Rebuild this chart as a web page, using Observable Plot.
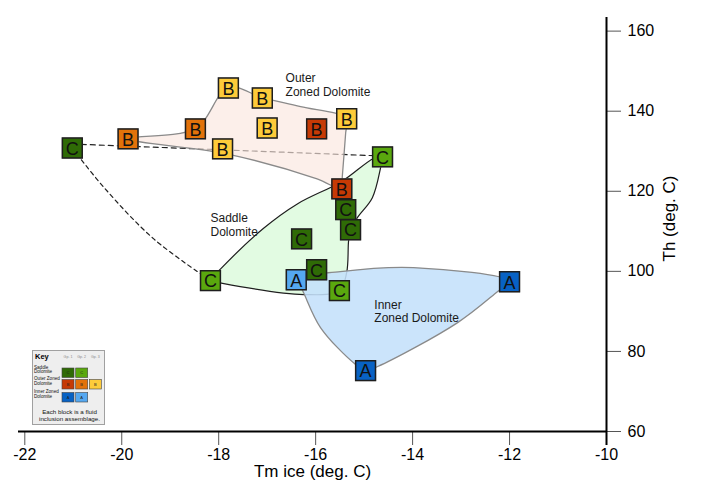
<!DOCTYPE html>
<html><head><meta charset="utf-8">
<script src="https://cdn.jsdelivr.net/npm/d3@7"></script>
<script src="https://cdn.jsdelivr.net/npm/@observablehq/plot@0.6"></script>
<style>
body{margin:0;background:#fff;font-family:"Liberation Sans",Arial,sans-serif;}
#wrap{position:relative;width:702px;height:489px;}
#wrap svg.key{position:absolute;left:0;top:0;pointer-events:none;}
</style></head><body><div id="wrap"></div>
<script>
// ---- data: fluid inclusion assemblages (Tm ice vs Th) ----
const tmIce  = [-21.02,-19.87,-18.48,-17.80,-17.10,-17.92,-17.00,-15.98,-15.36,-14.62,-15.46,-15.38,-15.28,-16.29,-18.17,-15.98,-16.40,-15.51,-12.00,-14.97];
const thHom  = [130.8, 133.1, 135.6, 145.8, 143.3, 130.6, 135.8, 135.6, 138.1, 128.6, 120.6, 115.4, 110.4, 108.1, 97.7, 100.4, 97.9, 95.2, 97.4, 75.2];
const letter = ["C","B","B","B","B","B","B","B","B","C","B","C","C","C","C","C","A","C","A","A"];
const group  = ["S1","O2","O2","O3","O3","O3","O3","O1","O3","S2","O1","S1","S1","S1","S2","S1","I2","S2","I1","I1"];
const groupColor = {S1:"#2f6b06", S2:"#5aa80e", O1:"#c63a05", O2:"#e2720a", O3:"#fdcb3a", I1:"#0862c4", I2:"#55a8f0"};

// region outlines (control points read along each boundary)
const outerX  = [-19.86,-18.48,-17.80,-17.10,-16.31,-15.36,-15.38,-15.45,-15.47,-15.97,-17.86];
const outerY  = [133.16,135.65,145.9, 143.4, 141.15,138.15,134.66,123.67,120.67,123.1, 129.4];
const saddleX = [-18.17,-17.96,-17.08,-16.37,-15.47,-14.805,-14.62,-14.66,-14.83,-15.14,-15.28,-15.32,-15.36,-15.51,-16.25,-17.92];
const saddleY = [97.7, 100.6, 110.7, 116.9, 122.4, 128.2,  128.66,125.9, 118.4, 113.4, 110.4, 107.7, 99.7,  95.2,  94.2,  97.0];
const innerX  = [-16.39,-15.49,-13.98,-12.00,-12.245,-13.07,-14.72,-14.97,-15.20,-15.90,-16.27];
const innerY  = [97.95, 99.95, 100.95,97.45, 94.96,  87.2,  76.23, 75.23, 76.98, 85.97, 95.2];
// dashed links
const linkX   = [-21.02,-14.62];
const linkY   = [131.8, 128.8];
const curveX  = [-21.02,-20.37,-19.34,-18.17];
const curveY  = [130.8, 121.0, 108.1, 97.7];

const regionNames = ["Outer\nZoned Dolomite","Saddle\nDolomite","Inner\nZoned Dolomite"];
const regionX = [-16.62,-18.17,-14.79];
const regionY = [146.6, 111.6, 90.1];

const xTicks = [-22,-20,-18,-16,-14,-12,-10];
const yTicks = [60,80,100,120,140,160];
const xTitle = "Tm ice (deg. C)";
const yTitle = "Th (deg. C)";

// key
const keyRows = ["Saddle\nDolomite","Outer Zoned\nDolomite","Inner Zoned\nDolomite"];
const keyCols = ["Gp. 1","Gp. 2","Gp. 3"];
const keyGroups = [["S1","S2"],["O1","O2","O3"],["I1","I2"]];
const keyLetters = ["C","B","A"];
const keyNote = ["Each block is a fluid","inclusion assemblage."];

const idx = d3.range(tmIce.length);
const poly = X => d3.range(X.length);

const chart = Plot.plot({
  width: 702, height: 489,
  marginLeft: 18, marginRight: 96, marginTop: 17, marginBottom: 58,
  x: {domain: [-22.13, -10], axis: null},
  y: {domain: [60, 163.4], axis: null},
  color: {type: "identity"},
  style: {fontFamily: "'Liberation Sans', Arial, sans-serif", color: "#000", background: "#fff"},
  marks: [
    Plot.line(d3.range(2), {x: i => linkX[i], y: i => linkY[i], stroke: "#222", strokeWidth: 1.2, strokeDasharray: "5,4"}),
    Plot.line(d3.range(4), {x: i => curveX[i], y: i => curveY[i], curve: "catmull-rom", stroke: "#222", strokeWidth: 1.2, strokeDasharray: "4,3.5"}),
    Plot.line(poly(outerX), {x: i => outerX[i], y: i => outerY[i], curve: "catmull-rom-closed", fill: "#fbe6de", fillOpacity: 0.65, stroke: "#8a8a8a", strokeWidth: 1.3}),
    Plot.line(poly(saddleX), {x: i => saddleX[i], y: i => saddleY[i], curve: "catmull-rom-closed", fill: "#e2fbe2", stroke: "#1e1e1e", strokeWidth: 1.2}),
    Plot.line(poly(innerX), {x: i => innerX[i], y: i => innerY[i], curve: "catmull-rom-closed", fill: "#c4e0fa", fillOpacity: 0.88, stroke: "#8a8a8a", strokeWidth: 1.3}),
    Plot.text(regionNames, {x: (d,i) => regionX[i], y: (d,i) => regionY[i], text: d => d, textAnchor: "start", fontSize: 12, lineHeight: 1.12, fill: "#1a1a1a"}),
    // axes
    Plot.axisX({ticks: xTicks, tickSize: 14, tickPadding: 3, fontSize: 16, tickFormat: d => String(d), label: null, stroke: "#555", fill: "#000"}),
    Plot.axisY({anchor: "right", ticks: yTicks, tickSize: 14, tickPadding: 7, fontSize: 16, tickFormat: d => String(d), label: null, stroke: "#555", fill: "#000"}),
    Plot.ruleY([60], {stroke: "#000", strokeWidth: 2}),
    Plot.ruleX([-10], {stroke: "#000", strokeWidth: 2, insetBottom: -14}),
    Plot.text([xTitle], {text: d => d, frameAnchor: "bottom", textAnchor: "middle", lineAnchor: "middle", dy: 40, fontSize: 17, fill: "#000"}),
    Plot.text([yTitle], {text: d => d, frameAnchor: "right", textAnchor: "middle", lineAnchor: "middle", dx: 63, dy: -6, rotate: -90, fontSize: 17, fill: "#000"}),
    // boxes
    Plot.dot(idx, {x: i => tmIce[i], y: i => thHom[i], symbol: "square", r: 11.9, fill: "#a8a8a8"}),
    Plot.dot(idx, {x: i => tmIce[i], y: i => thHom[i], symbol: "square", r: 11.2, fill: i => groupColor[group[i]], stroke: "#1e1e1e", strokeWidth: 1.5}),
    Plot.text(idx, {x: i => tmIce[i], y: i => thHom[i], text: i => letter[i], fontSize: 18, fill: "#111", dy: 1})
  ]
});
document.getElementById("wrap").appendChild(chart);

// ---- key (legend) overlay ----
const ks = d3.select("#wrap").append("svg").attr("class","key").attr("width",702).attr("height",489)
  .style("font-family","'Liberation Sans', Arial, sans-serif");
const kx = 32.5, ky = 350.5, kw = 72, kh = 74;
ks.append("rect").attr("x",kx).attr("y",ky).attr("width",kw).attr("height",kh).attr("fill","#eeeeee").attr("stroke","#a0a0a0");
ks.append("text").attr("x",kx+2.5).attr("y",ky+8.5).attr("font-size",7.5).attr("font-weight","bold").text("Key");
const colX = [68, 81.7, 95.3];
keyCols.forEach((c,j) => ks.append("text").attr("x",colX[j]).attr("y",ky+7).attr("font-size",3.6).attr("fill","#888").attr("text-anchor","middle").text(c));
const rowTop = [368, 379.5, 392.5];
keyRows.forEach((r,i) => {
  const t = ks.append("text").attr("x",kx+1.5).attr("y",rowTop[i]+0.5).attr("font-size",4.6).attr("fill","#111");
  r.split("\n").forEach((ln,k) => t.append("tspan").attr("x",kx+1.5).attr("dy",k ? 4.6 : 0).text(ln));
  keyGroups[i].forEach((g,j) => {
    ks.append("rect").attr("x",colX[j]-6).attr("y",rowTop[i]).attr("width",12).attr("height",9.5)
      .attr("fill",groupColor[g]).attr("stroke","#444").attr("stroke-width",0.6);
    ks.append("text").attr("x",colX[j]).attr("y",rowTop[i]+6.3).attr("font-size",4).attr("text-anchor","middle").attr("fill","#222").text(keyLetters[i]);
  });
});
keyNote.forEach((n,k) => ks.append("text").attr("x",kx+kw/2+1).attr("y",413.5+k*7.5).attr("font-size",6.2).attr("text-anchor","middle").attr("fill","#111").text(n));
</script>
</body></html>
